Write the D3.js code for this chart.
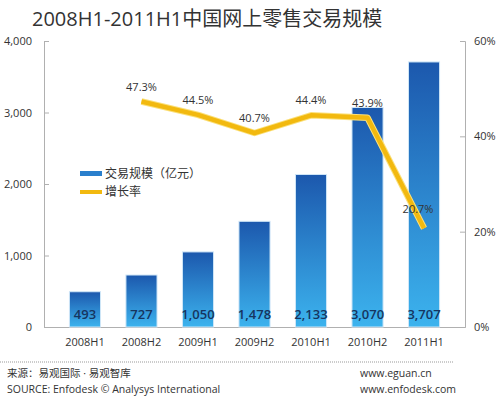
<!DOCTYPE html>
<html>
<head>
<meta charset="utf-8">
<script src="https://cdn.jsdelivr.net/npm/d3@7"></script>
<style>
  body { margin: 0; background: #fff; }
  svg text { font-family: "Open Sans", "Noto Sans CJK SC", sans-serif; fill: #333; }
</style>
</head>
<body>
<svg id="chart" width="500" height="397"></svg>
<script>
const periods = ['2008H1', '2008H2', '2009H1', '2009H2', '2010H1', '2010H2', '2011H1'];
const volume = [493, 727, 1050, 1478, 2133, 3070, 3707];
const growthPeriods = ['2008H2', '2009H1', '2009H2', '2010H1', '2010H2', '2011H1'];
const growth = [47.3, 44.5, 40.7, 44.4, 43.9, 20.7];
const leftTicks = [0, 1000, 2000, 3000, 4000];
const rightTicks = [0, 20, 40, 60];

const svg = d3.select('#chart');
const plotLeft = 44, plotRight = 465, plotTop = 41, plotBottom = 327;

// gradient for bars
const defs = svg.append('defs');
const grad = defs.append('linearGradient')
    .attr('id', 'barGrad').attr('x1', 0).attr('y1', 0).attr('x2', 0).attr('y2', 1);
grad.append('stop').attr('offset', '0%').attr('stop-color', '#1c58ad');
grad.append('stop').attr('offset', '100%').attr('stop-color', '#3cb3ee');

const x = d3.scaleBand().domain(periods).range([plotLeft, plotRight]).padding(0.45);
const y = d3.scaleLinear().domain([0, 4000]).range([plotBottom, plotTop]);
const y2 = d3.scaleLinear().domain([0, 60]).range([plotBottom, plotTop]);

// title
svg.append('text')
    .attr('x', 32).attr('y', 26)
    .style('font-size', '20px')
    .text('2008H1-2011H1中国网上零售交易规模');

// left axis
const gl = svg.append('g').attr('transform', `translate(${plotLeft},0)`)
    .call(d3.axisLeft(y).tickValues(leftTicks).tickSize(-5).tickPadding(12)
        .tickFormat(d3.format(',')));
gl.selectAll('text').style('font-size', '11px').attr('fill', '#333');

// right axis
const gr = svg.append('g').attr('transform', `translate(${plotRight},0)`)
    .call(d3.axisRight(y2).tickValues(rightTicks).tickSize(-5).tickPadding(9)
        .tickFormat(d => d + '%'));
gr.selectAll('text').style('font-size', '11px').attr('fill', '#333');

// bottom axis
const gb = svg.append('g').attr('transform', `translate(0,${plotBottom})`)
    .call(d3.axisBottom(x).tickSize(0).tickPadding(11));
gb.selectAll('text').style('font-size', '11px').attr('fill', '#333');

svg.selectAll('.domain').attr('stroke', '#b0b0b0');
svg.selectAll('.tick line').attr('stroke', '#b0b0b0');

// bars
svg.selectAll('rect.bar')
    .data(periods)
    .enter()
    .append('rect')
    .attr('class', 'bar')
    .attr('x', d => x(d))
    .attr('y', (d, i) => y(volume[i]))
    .attr('width', x.bandwidth())
    .attr('height', (d, i) => plotBottom - y(volume[i]))
    .attr('fill', 'url(#barGrad)')
    .attr('stroke', '#cfe6f7')
    .attr('stroke-width', 1);

// bar value labels
svg.selectAll('text.val')
    .data(periods)
    .enter()
    .append('text')
    .attr('class', 'val')
    .attr('x', d => x(d) + x.bandwidth() / 2)
    .attr('y', plotBottom - 8)
    .attr('text-anchor', 'middle')
    .style('font-size', '13px')
    .style('font-weight', '600')
    .style('fill', '#16355f')
    .text((d, i) => d3.format(',')(volume[i]));

// growth line
const cx = d => x(d) + x.bandwidth() / 2;
const line = d3.line()
    .x((d, i) => cx(growthPeriods[i]))
    .y(d => y2(d));

svg.append('path')
    .datum(growth)
    .attr('fill', 'none')
    .attr('stroke', '#fbe07a')
    .attr('stroke-width', 6.5)
    .attr('stroke-linejoin', 'round')
    .attr('d', line);
svg.append('path')
    .datum(growth)
    .attr('fill', 'none')
    .attr('stroke', '#f2b90f')
    .attr('stroke-width', 4.5)
    .attr('stroke-linejoin', 'round')
    .attr('d', line);

svg.selectAll('text.pct')
    .data(growth)
    .enter()
    .append('text')
    .attr('class', 'pct')
    .attr('x', (d, i) => cx(growthPeriods[i]) - (i === growth.length - 1 ? 6 : 0))
    .attr('y', (d, i) => y2(d) - (i === growth.length - 1 ? 15 : 11))
    .attr('text-anchor', 'middle')
    .style('font-size', '11px')
    .text(d => d.toFixed(1) + '%');

// legend
const legend = svg.append('g');
legend.append('rect').attr('x', 80).attr('y', 171).attr('width', 22).attr('height', 5)
    .attr('fill', '#2a7fcc');
legend.append('text').attr('x', 105).attr('y', 178).style('font-size', '12px')
    .text('交易规模（亿元）');
legend.append('rect').attr('x', 80).attr('y', 190).attr('width', 22).attr('height', 4)
    .attr('fill', '#f2b90f');
legend.append('text').attr('x', 105).attr('y', 196).style('font-size', '12px')
    .text('增长率');

// footer
svg.append('line')
    .attr('x1', 0).attr('x2', 453).attr('y1', 362).attr('y2', 362)
    .attr('stroke', '#999').attr('stroke-dasharray', '1,1');
svg.append('text').attr('x', 7).attr('y', 377).style('font-size', '10.5px')
    .text('来源：易观国际 · 易观智库');
svg.append('text').attr('x', 7).attr('y', 393).style('font-size', '10.5px')
    .text('SOURCE: Enfodesk © Analysys International');
svg.append('text').attr('x', 360).attr('y', 377).style('font-size', '10.5px')
    .text('www.eguan.cn');
svg.append('text').attr('x', 360).attr('y', 393).style('font-size', '10.5px')
    .text('www.enfodesk.com');
</script>
</body>
</html>
